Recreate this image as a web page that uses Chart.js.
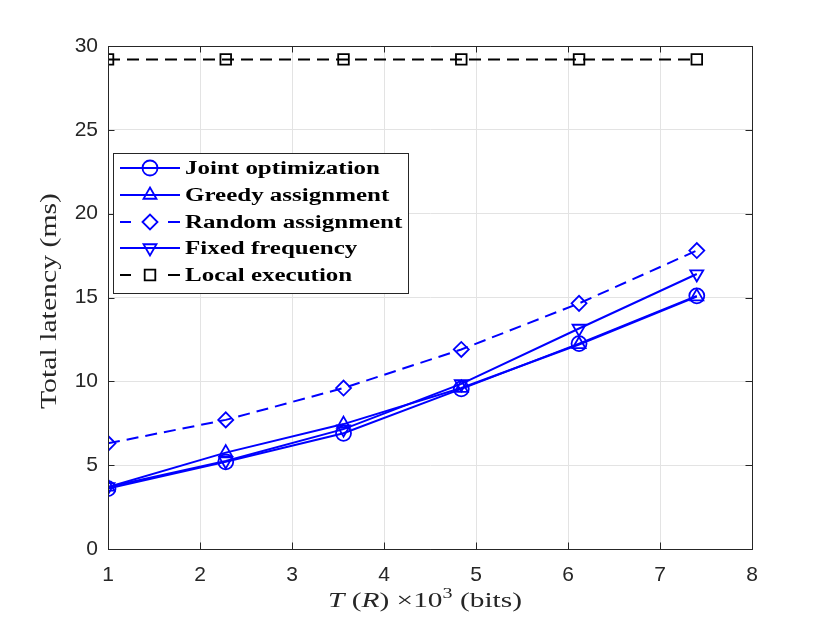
<!DOCTYPE html>
<html>
<head>
<meta charset="utf-8">
<script src="https://cdn.jsdelivr.net/npm/chart.js@4.4.1/dist/chart.umd.min.js"></script>
<style>
  html, body { margin: 0; padding: 0; background: #fff; }
  #wrap { width: 830px; height: 623px; }
</style>
</head>
<body>
<div id="wrap"><canvas id="c" width="830" height="623"></canvas></div>
<script>
// data
const xValues = [1, 2.28, 3.56, 4.84, 6.12, 7.4];
const jointOpt = [3.6, 5.2, 6.9, 9.55, 12.25, 15.1];
const greedyAssign = [3.7, 5.75, 7.45, 9.6, 12.2, 15.05];
const randomAssign = [6.3, 7.7, 9.6, 11.9, 14.65, 17.8];
const fixedFreq = [3.7, 5.25, 7.15, 9.85, 13.15, 16.4];
const localExec = [29.2, 29.2, 29.2, 29.2, 29.2, 29.2];
const xTicks = [1, 2, 3, 4, 5, 6, 7, 8];
const yTicks = [0, 5, 10, 15, 20, 25, 30];
const yTitle = 'Total latency (ms)';

const BLUE = '#0000ff';
const AXIS = '#262626';
const SERIF = '"Liberation Serif"';

const pts = arr => xValues.map((x, i) => ({x: x, y: arr[i]}));

function series(label, arr, color, style, dash, rot) {
    return {
        label: label,
        data: pts(arr),
        borderColor: color,
        backgroundColor: 'rgba(0,0,0,0)',
        borderWidth: 2,
        borderDash: dash,
        pointStyle: style,
        pointRotation: rot || 0,
        pointRadius: 7.5,
        pointBorderWidth: 1.8,
        pointBorderColor: color,
        pointBackgroundColor: 'rgba(0,0,0,0)',
        tension: 0
    };
}

const datasets = [
    series('Joint optimization', jointOpt, BLUE, 'circle', []),
    series('Greedy assignment', greedyAssign, BLUE, 'triangle', []),
    series('Random assignment', randomAssign, BLUE, 'rectRot', [12, 7]),
    series('Fixed frequency', fixedFreq, BLUE, 'triangle', [], 180),
    series('Local execution', localExec, '#000000', 'rect', [12, 7])
];

// latex text is wider than Times, so stretch it to the measured width
function stretchedText(ctx, parts, cx, cy, targetW, angle) {
    let w = 0;
    parts.forEach(p => { ctx.font = p.f; p.w = ctx.measureText(p.t).width; w += p.w; });
    const k = targetW / w;
    ctx.save();
    ctx.translate(cx, cy);
    ctx.rotate(angle);
    ctx.scale(k, 1);
    let px = -w / 2;
    ctx.textAlign = 'left';
    ctx.textBaseline = 'alphabetic';
    parts.forEach(p => {
        ctx.font = p.f;
        ctx.fillText(p.t, px, p.dy || 0);
        px += p.w;
    });
    ctx.restore();
}

//box, inside ticks, axis titles, legend
const matlabStyle = {
    id: 'matlabStyle',
    afterDatasetsDraw(chart) {
        const {ctx, chartArea: {left, right, top, bottom}, scales: {x, y}} = chart;
        ctx.save();
        ctx.strokeStyle = AXIS;
        ctx.lineWidth = 1;
        ctx.beginPath();
        ctx.rect(left + 0.5, top + 0.5, right - left, bottom - top);
        ctx.stroke();
        const tl = 6.5;
        ctx.beginPath();
        xTicks.forEach(v => {
            const px = Math.round(x.getPixelForValue(v)) + 0.5;
            ctx.moveTo(px, bottom); ctx.lineTo(px, bottom - tl);
            ctx.moveTo(px, top); ctx.lineTo(px, top + tl);
        });
        yTicks.forEach(v => {
            const py = Math.round(y.getPixelForValue(v)) + 0.5;
            ctx.moveTo(left, py); ctx.lineTo(left + tl, py);
            ctx.moveTo(right, py); ctx.lineTo(right - tl, py);
        });
        ctx.stroke();
        ctx.restore();
    },
    afterDraw(chart) {
        const {ctx} = chart;
        ctx.save();
        ctx.fillStyle = AXIS;
        // x axis title:  T (R) x10^3 (bits)
        const fs = 22;
        stretchedText(ctx, [
            {t: 'T', f: 'italic ' + fs + 'px ' + SERIF},
            {t: ' (', f: fs + 'px ' + SERIF},
            {t: 'R', f: 'italic ' + fs + 'px ' + SERIF},
            {t: ') \u00d710', f: fs + 'px ' + SERIF},
            {t: '3', f: '15px ' + SERIF, dy: -9},
            {t: ' (bits)', f: fs + 'px ' + SERIF}
        ], 425, 607, 194, 0);
        // y axis title
        stretchedText(ctx, [{t: yTitle, f: '23px ' + SERIF}], 56, 301, 216, -Math.PI / 2);

        // legend box
        const bx = 113.5, by = 153.5, bw = 295, bh = 140;
        ctx.fillStyle = '#fff';
        ctx.fillRect(bx, by, bw, bh);
        ctx.strokeStyle = AXIS;
        ctx.lineWidth = 1;
        ctx.strokeRect(bx, by, bw, bh);
        const rowY = [168, 195, 222, 248, 275];
        ctx.font = 'bold 18px ' + SERIF;
        const k = 195 / ctx.measureText(chart.data.datasets[0].label).width;
        chart.data.datasets.forEach((ds, i) => {
            const ry = rowY[i];
            ctx.strokeStyle = ds.borderColor;
            ctx.lineWidth = 2;
            ctx.beginPath();
            if (ds.borderDash.length) {
                ctx.moveTo(120, ry); ctx.lineTo(131, ry);
                ctx.moveTo(168, ry); ctx.lineTo(180, ry);
            } else {
                ctx.moveTo(120, ry); ctx.lineTo(180, ry);
            }
            ctx.stroke();
            ctx.lineWidth = 1.8;
            ctx.fillStyle = 'rgba(0,0,0,0)';
            Chart.helpers.drawPoint(ctx, {
                pointStyle: ds.pointStyle, radius: 7.5, rotation: ds.pointRotation, borderWidth: 1.8
            }, 150, ry);
            ctx.save();
            ctx.translate(185, ry + 1);
            ctx.scale(k, 1);
            ctx.fillStyle = '#000';
            ctx.font = 'bold 18px ' + SERIF;
            ctx.textBaseline = 'middle';
            ctx.textAlign = 'left';
            ctx.fillText(ds.label, 0, 0);
            ctx.restore();
        });
        ctx.restore();
    }
};

new Chart(document.getElementById('c'), {
    type: 'line',
    data: {datasets: datasets},
    options: {
        responsive: false,
        animation: false,
        layout: {padding: {left: 0, top: 46, right: 78, bottom: 0}},
        plugins: {
            legend: {display: false},
            tooltip: {enabled: false}
        },
        scales: {
            x: {
                type: 'linear',
                min: 1, max: 8,
                afterFit(s) { s.height = 74; },
                afterBuildTicks(s) { s.ticks = xTicks.map(v => ({value: v})); },
                grid: {color: '#e3e3e3', drawTicks: false},
                border: {color: AXIS, width: 1},
                ticks: {
                    padding: 14,
                    color: AXIS,
                    font: {family: '"Liberation Sans"', size: 21}
                }
            },
            y: {
                min: 0, max: 30,
                afterFit(s) { s.width = 108; },
                afterBuildTicks(s) { s.ticks = yTicks.map(v => ({value: v})); },
                grid: {color: '#e3e3e3', drawTicks: false},
                border: {color: AXIS, width: 1},
                ticks: {
                    padding: 10,
                    color: AXIS,
                    font: {family: '"Liberation Sans"', size: 21}
                }
            }
        }
    },
    plugins: [matlabStyle]
});
</script>
</body>
</html>
